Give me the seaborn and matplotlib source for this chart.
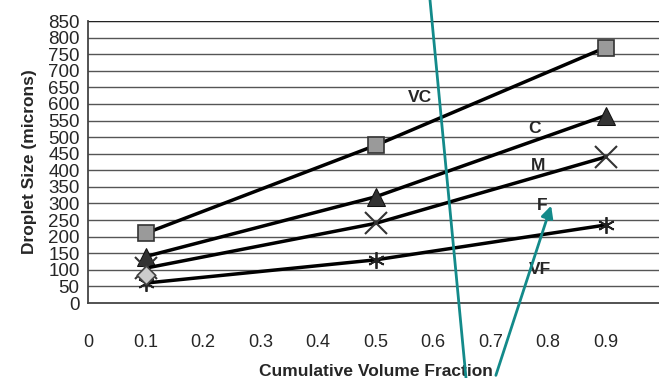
import matplotlib
matplotlib.use("Agg")
import matplotlib.pyplot as plt
import seaborn as sns
import numpy as np

sns.set_style("white")
plt.rcParams['font.family'] = ['Liberation Sans', 'DejaVu Sans']

fraction = [0.1, 0.5, 0.9]
vc = [210, 475, 770]
c = [140, 320, 565]
m = [105, 240, 440]
vf = [60, 130, 235]
f_first = [85]
series_names = ['VC', 'C', 'M', 'F', 'VF']

fig = plt.figure(figsize=(6.59, 3.78), dpi=100)
ax = fig.add_axes([88/659, 75/378, 575/659, 282/378])

# gridlines
for yv in range(50, 851, 50):
    ax.axhline(yv, color='#555555', lw=1.0, zorder=0)

# series
sns.lineplot(x=fraction, y=vc, ax=ax, color='black', lw=2.5, marker='s', markersize=11,
             markerfacecolor='#9a9a9a', markeredgecolor='#333333', markeredgewidth=1.2)
sns.lineplot(x=fraction, y=c, ax=ax, color='black', lw=2.5, marker='^', markersize=13,
             markerfacecolor='#333333', markeredgecolor='#111111')
sns.lineplot(x=fraction, y=m, ax=ax, color='black', lw=2.5, marker='x', markersize=16,
             markeredgecolor='#333333', markeredgewidth=1.5)
sns.lineplot(x=fraction, y=vf, ax=ax, color='black', lw=2.5, marker=(6, 2, 0), markersize=12,
             markeredgecolor='#222222', markeredgewidth=1.3)
sns.scatterplot(x=fraction[:1], y=f_first, ax=ax, marker='D', s=90, color='#cccccc',
                edgecolor='#444444', linewidth=1.2, zorder=3)

# series labels
label_pos = [(0.577, 620), (0.777, 527), (0.782, 415), (0.79, 295), (0.786, 100)]
for name, (lx, ly) in zip(series_names, label_pos):
    ax.text(lx, ly, name, fontsize=12.5, fontweight='bold', ha='center', va='center')

ax.set_xlim(0, 1.0)
ax.set_ylim(0, 850)
ax.set_xticks(np.arange(0, 1.0, 0.1))
ax.set_xticklabels(['0', '0.1', '0.2', '0.3', '0.4', '0.5', '0.6', '0.7', '0.8', '0.9'])
ax.set_yticks(range(0, 851, 50))
ax.tick_params(axis='x', direction='in', length=4, pad=22, labelsize=13, color='#444444')
ax.tick_params(axis='y', direction='out', length=4, pad=2, labelsize=13.5, color='#444444')

for s in ['top', 'right']:
    ax.spines[s].set_visible(False)
ax.spines['left'].set_color('#444444')
ax.spines['bottom'].set_color('#444444')
ax.spines['left'].set_linewidth(1.3)
ax.spines['bottom'].set_linewidth(1.3)
ax.axhline(850, color='#222222', lw=1.6, zorder=0)

ax.set_xlabel('Cumulative Volume Fraction', fontsize=12.5, fontweight='bold', labelpad=10)
ax.set_ylabel('Droplet Size (microns)', fontsize=12.5, fontweight='bold', labelpad=8)

# teal overlay arrows drawn on the scan
fig.add_artist(plt.Line2D([430/659, 466/659], [1.0, 0.0], color='#138a8a', lw=2, zorder=5))
ax.annotate('', xy=(552/659, 1 - 203/378), xytext=(495/659, 0.0),
            xycoords='figure fraction', textcoords='figure fraction', zorder=5,
            arrowprops=dict(arrowstyle='-|>', color='#138a8a', lw=2, mutation_scale=18))

fig.savefig('out.png', dpi=100)
